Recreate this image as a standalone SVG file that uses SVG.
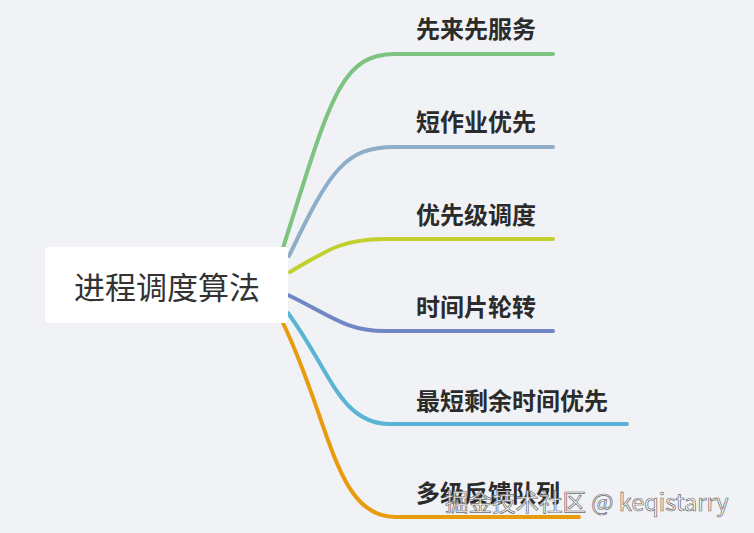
<svg xmlns="http://www.w3.org/2000/svg" width="754" height="533" viewBox="0 0 754 533">
<style>
.br{fill:none;stroke-width:4;stroke-linecap:round}
.lbl{font-family:"Noto Sans CJK SC","Noto Sans",sans-serif;font-weight:bold;font-size:24px;fill:#2b2b2b}
</style>
<rect width="754" height="533" fill="#f1f2f5"/>
<g id="connectors">
<path class="br" stroke="#7dc381" d="M283,248 C330,100 340,54 395,54 L553,54"/>
<path class="br" stroke="#8eadc9" d="M289,256 C330,170 345,147 395,147 L553,147"/>
<path class="br" stroke="#c3cf2d" d="M290,272 C330,248 345,239 385,239 L553,239"/>
<path class="br" stroke="#7186c4" d="M288,295 C330,315 345,331 385,331 L553,331"/>
<path class="br" stroke="#5ab4d5" d="M288,313 C330,370 340,424 390,424 L627,424"/>
<path class="br" stroke="#e99b0e" d="M283,323 C330,420 335,517 395,517 L579,517"/>
</g>
<g id="root">
<rect x="45" y="247" width="243" height="76" rx="4" fill="#ffffff"/>
<text x="167" y="299" text-anchor="middle" font-family="Noto Sans CJK SC,sans-serif" font-size="31" fill="#333333">进程调度算法</text>
</g>
<g id="n1"><text class="lbl" x="416" y="38">先来先服务</text></g>
<g id="n2"><text class="lbl" x="416" y="131">短作业优先</text></g>
<g id="n3"><text class="lbl" x="416" y="224">优先级调度</text></g>
<g id="n4"><text class="lbl" x="416" y="316">时间片轮转</text></g>
<g id="n5"><text class="lbl" x="416" y="410">最短剩余时间优先</text></g>
<g id="n6"><text class="lbl" x="416" y="502">多级反馈队列</text></g>
<text x="445" y="511" font-family="Noto Sans CJK SC,sans-serif" font-size="23.5" fill="#ffffff" fill-opacity="0.85" stroke="#6a6a6a" stroke-width="0.7">掘金技术社区 @ keqistarry</text>
</svg>
